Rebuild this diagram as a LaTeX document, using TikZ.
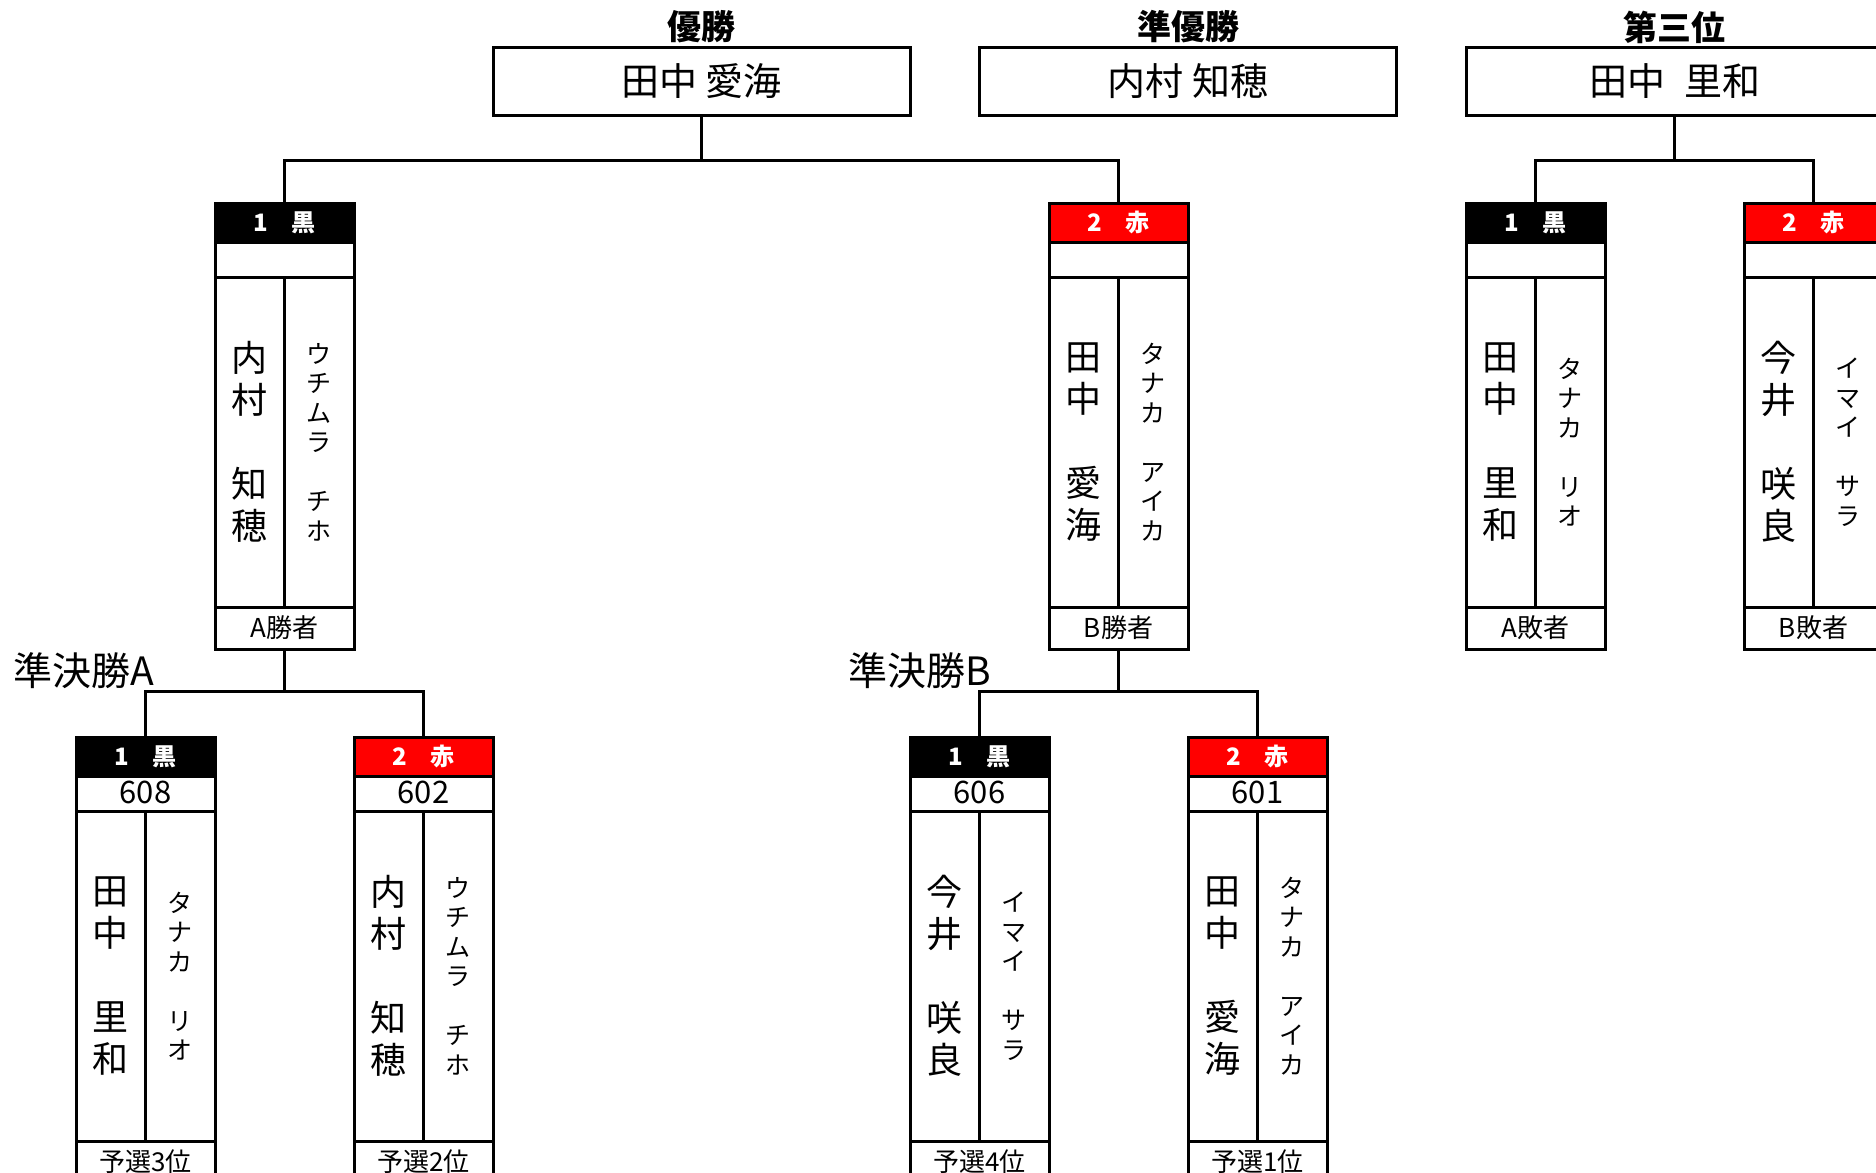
\documentclass[tikz,border=0pt]{standalone}
\usepackage{fontspec}
\setmainfont{Noto Sans CJK JP}
\usepackage{xcolor}
\definecolor{tnRed}{RGB}{255,0,0}
\colorlet{aka-color}{tnRed}
\colorlet{kuro-color}{black}
\usetikzlibrary{calc}
\usetikzlibrary{positioning}
\tikzset{
  box-frame/.style={draw, line width=1.5pt, inner sep=0pt, outer sep=0pt},
  head-box/.style={box-frame, minimum width=69.5pt, minimum height=19.5pt, text=white, font=\bfseries\fontsize{12}{12}\selectfont},
  num-box/.style={box-frame, minimum width=69.5pt, minimum height=17.5pt, font=\fontsize{15.5}{15.5}\selectfont},
  kanji-col/.style={box-frame, minimum width=34.75pt, minimum height=165pt, align=center, font=\fontsize{18}{21}\selectfont},
  kana-col/.style={box-frame, minimum width=34.75pt, minimum height=165pt, align=center, font=\fontsize{12.5}{14.75}\selectfont},
  foot-box/.style={box-frame, minimum width=69.5pt, minimum height=21pt, font=\fontsize{13}{13}\selectfont},
  rank-box/.style={box-frame, minimum width=208.5pt, minimum height=34pt, font=\fontsize{19}{19}\selectfont},
  rank-title/.style={font=\bfseries\fontsize{17}{17}\selectfont},
  round-label/.style={anchor=west, inner sep=0pt, font=\fontsize{19.5}{19.5}\selectfont},
  link-line/.style={line width=1.5pt}
}
% #1 id, #2 x, #3 top, #4 colour, #5 head, #6 number, #7 kanji, #8 kana, #9 foot
\newcommand{\player}[9]{
  \node[head-box, fill=#4, anchor=north] (#1-head) at (#2,#3) {#5};
  \node[num-box, below=0pt of #1-head] (#1-num) {\raisebox{1pt}{#6}};
  \node[kanji-col, anchor=north east] (#1-kj) at (#1-num.south) {#7};
  \node[kana-col, anchor=north west] (#1-kn) at (#1-num.south) {#8};
  \node[foot-box, anchor=north] (#1-foot) at (#1-kj.south east) {#9};
}
\begin{document}
\begin{tikzpicture}[x=0.5pt,y=-0.5pt]
    \useasboundingbox (0,0) rectangle (1876,1173);
    \clip (0,0) rectangle (1876,1173);
    % final results
    \node[rank-title] (t1) at (701.5,27) {優勝};
    \node[rank-title] (t2) at (1188,27) {準優勝};
    \node[rank-title] (t3) at (1674.5,27) {第三位};
    \node[rank-box] (champ) at (701.5,81) {田中 愛海};
    \node[rank-box] (second) at (1188,81) {内村 知穂};
    \node[rank-box] (third) at (1674.5,81) {田中\hspace{0.5em}里和};
    % final and third place match
    \player{fa}{284.5}{203}{kuro-color}{1\hspace{1em}黒}{}{内\\村\\~\\知\\穂}{ウ\\チ\\ム\\ラ\\~\\チ\\ホ}{A勝者}
    \player{fb}{1118.5}{203}{aka-color}{2\hspace{1em}赤}{}{田\\中\\~\\愛\\海}{タ\\ナ\\カ\\~\\ア\\イ\\カ}{B勝者}
    \player{la}{1535.5}{203}{kuro-color}{1\hspace{1em}黒}{}{田\\中\\~\\里\\和}{タ\\ナ\\カ\\~\\リ\\オ}{A敗者}
    \player{lb}{1813.5}{203}{aka-color}{2\hspace{1em}赤}{}{今\\井\\~\\咲\\良}{イ\\マ\\イ\\~\\サ\\ラ}{B敗者}
    % semi finals
    \node[round-label] (semiA) at (13,671) {準決勝A};
    \node[round-label] (semiB) at (848,671) {準決勝B};
    \player{s1}{145.5}{737}{kuro-color}{1\hspace{1em}黒}{608}{田\\中\\~\\里\\和}{タ\\ナ\\カ\\~\\リ\\オ}{予選3位}
    \player{s2}{423.5}{737}{aka-color}{2\hspace{1em}赤}{602}{内\\村\\~\\知\\穂}{ウ\\チ\\ム\\ラ\\~\\チ\\ホ}{予選2位}
    \player{s3}{979.5}{737}{kuro-color}{1\hspace{1em}黒}{606}{今\\井\\~\\咲\\良}{イ\\マ\\イ\\~\\サ\\ラ}{予選4位}
    \player{s4}{1257.5}{737}{aka-color}{2\hspace{1em}赤}{601}{田\\中\\~\\愛\\海}{タ\\ナ\\カ\\~\\ア\\イ\\カ}{予選1位}
    % brackets
    \draw[link-line] (champ.south) -- ++(0,45) -| (fa-head.north);
    \draw[link-line] (champ.south) -- ++(0,45) -| (fb-head.north);
    \draw[link-line] (third.south) -- ++(0,45) -| (la-head.north);
    \draw[link-line] (third.south) -- ++(0,45) -| (lb-head.north);
    \draw[link-line] (fa-foot.south) -- ++(0,42) -| (s1-head.north);
    \draw[link-line] (fa-foot.south) -- ++(0,42) -| (s2-head.north);
    \draw[link-line] (fb-foot.south) -- ++(0,42) -| (s3-head.north);
    \draw[link-line] (fb-foot.south) -- ++(0,42) -| (s4-head.north);
  \end{tikzpicture}
\end{document}
